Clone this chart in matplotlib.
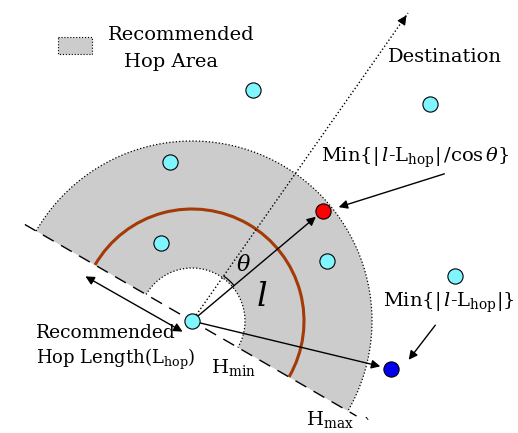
import numpy as np
import matplotlib.pyplot as plt
from matplotlib.patches import Wedge, Arc, Rectangle

plt.rcParams['mathtext.fontset'] = 'dejavuserif'
plt.rcParams['font.family'] = 'DejaVu Serif'

### Diagram data (pixel coordinates, y pointing down)
source = (192, 321)
neighbor_x = [253, 430, 170, 161, 327, 455]
neighbor_y = [90, 104, 162, 243, 261, 276]
best_node = (323, 211)        # Min{|l-Lhop|/cos(theta)}
closest_node = (391, 369)     # Min{|l-Lhop|}
destination = (408, 13)
h_min = 53
h_max = 180
l_hop = 112
theta_r = 55

fig = plt.figure(figsize=(5.18, 4.33), dpi=100)
ax = fig.add_axes([0, 0, 1, 1])
ax.set_xlim(0, 518)
ax.set_ylim(433, 0)
ax.axis('off')

# recommended hop area (half ring)
ax.add_patch(Wedge(source, h_max, -150, 30, width=h_max - h_min,
                   facecolor='#cccccc', edgecolor='none', zorder=1))
ax.add_patch(Arc(source, 2 * h_max, 2 * h_max, theta1=-150, theta2=30,
                 color='k', lw=0.9, ls=':', zorder=2))
ax.add_patch(Arc(source, 2 * h_min, 2 * h_min, theta1=-150, theta2=30,
                 color='k', lw=0.9, ls=':', zorder=2))
ax.add_patch(Arc(source, 2 * l_hop, 2 * l_hop, theta1=-150, theta2=30,
                 color='#a33a08', lw=2.2, zorder=3))

# boundary dashed line
ang = np.deg2rad(-30)
t = np.array([-193, 190])
ax.plot(source[0] + t * np.cos(ang), source[1] - t * np.sin(ang),
        color='k', lw=1, ls=(0, (9, 6)), zorder=2)
ax.text(368, 425, '`', fontsize=11, ha='center', va='center')

# destination direction
ax.plot([source[0], destination[0]], [source[1], destination[1]],
        color='k', lw=1, ls=':', zorder=4)
ax.annotate('', xy=destination, xytext=(400, 25),
            arrowprops=dict(arrowstyle='-|>', color='k', lw=0.8, mutation_scale=14))

# l and chosen nodes
ax.annotate('', xy=(best_node[0] - 5, best_node[1] + 4), xytext=source,
            arrowprops=dict(arrowstyle='-|>', color='k', lw=1, mutation_scale=13), zorder=4)
ax.annotate('', xy=(closest_node[0] - 8, closest_node[1] - 2), xytext=source,
            arrowprops=dict(arrowstyle='-|>', color='k', lw=1, mutation_scale=13), zorder=4)
ax.add_patch(Arc(source, 2 * theta_r, 2 * theta_r, theta1=-55, theta2=-40,
                 color='k', lw=0.9, zorder=4))

# hop length double arrow
ax.annotate('', xy=(83, 275), xytext=(185, 333),
            arrowprops=dict(arrowstyle='<|-|>', color='k', lw=1, mutation_scale=13))

# label arrows
ax.annotate('', xy=(336, 208), xytext=(447, 173),
            arrowprops=dict(arrowstyle='-|>', color='k', lw=1, mutation_scale=13))
ax.annotate('', xy=(407, 362), xytext=(437, 323),
            arrowprops=dict(arrowstyle='-|>', color='k', lw=1, mutation_scale=13))

# nodes
ax.scatter(neighbor_x + [source[0]], neighbor_y + [source[1]], s=120,
           color='#80f4ff', edgecolor='k', lw=0.8, zorder=6)
ax.scatter([best_node[0]], [best_node[1]], s=120, color='#ff0000', edgecolor='k', lw=0.8, zorder=6)
ax.scatter([closest_node[0]], [closest_node[1]], s=120, color='#0000ee', edgecolor='k', lw=0.8, zorder=6)

# legend
ax.add_patch(Rectangle((58, 37), 34, 17, facecolor='#cccccc', edgecolor='k',
                       lw=0.8, ls=':', zorder=5))
fs = 14
ax.text(181, 35, 'Recommended', fontsize=fs, ha='center', va='center')
ax.text(171, 62, 'Hop Area', fontsize=fs, ha='center', va='center')
ax.text(445, 57, 'Destination', fontsize=fs, ha='center', va='center')
ax.text(415, 158, r'Min$\{|\,l$-L$_{\mathrm{hop}}|\,/\cos\theta\}$', fontsize=fs,
        ha='center', va='center')
ax.text(449, 303, r'Min$\{|\,l$-L$_{\mathrm{hop}}|\}$', fontsize=fs,
        ha='center', va='center')
ax.text(36, 333, 'Recommended', fontsize=13.5, ha='left', va='center')
ax.text(36, 359, r'Hop Length(L$_{\mathrm{hop}}$)', fontsize=13, ha='left', va='center')
ax.text(233, 368, r'H$_{\mathrm{min}}$', fontsize=fs, ha='center', va='center')
ax.text(330, 419, r'H$_{\mathrm{max}}$', fontsize=fs, ha='center', va='center')
ax.text(244, 265, r'$\theta$', fontsize=fs + 2, ha='center', va='center', zorder=5)
ax.text(262, 297, r'$l$', fontsize=24, ha='center', va='center', zorder=5)

plt.savefig('out.png', dpi=100)
